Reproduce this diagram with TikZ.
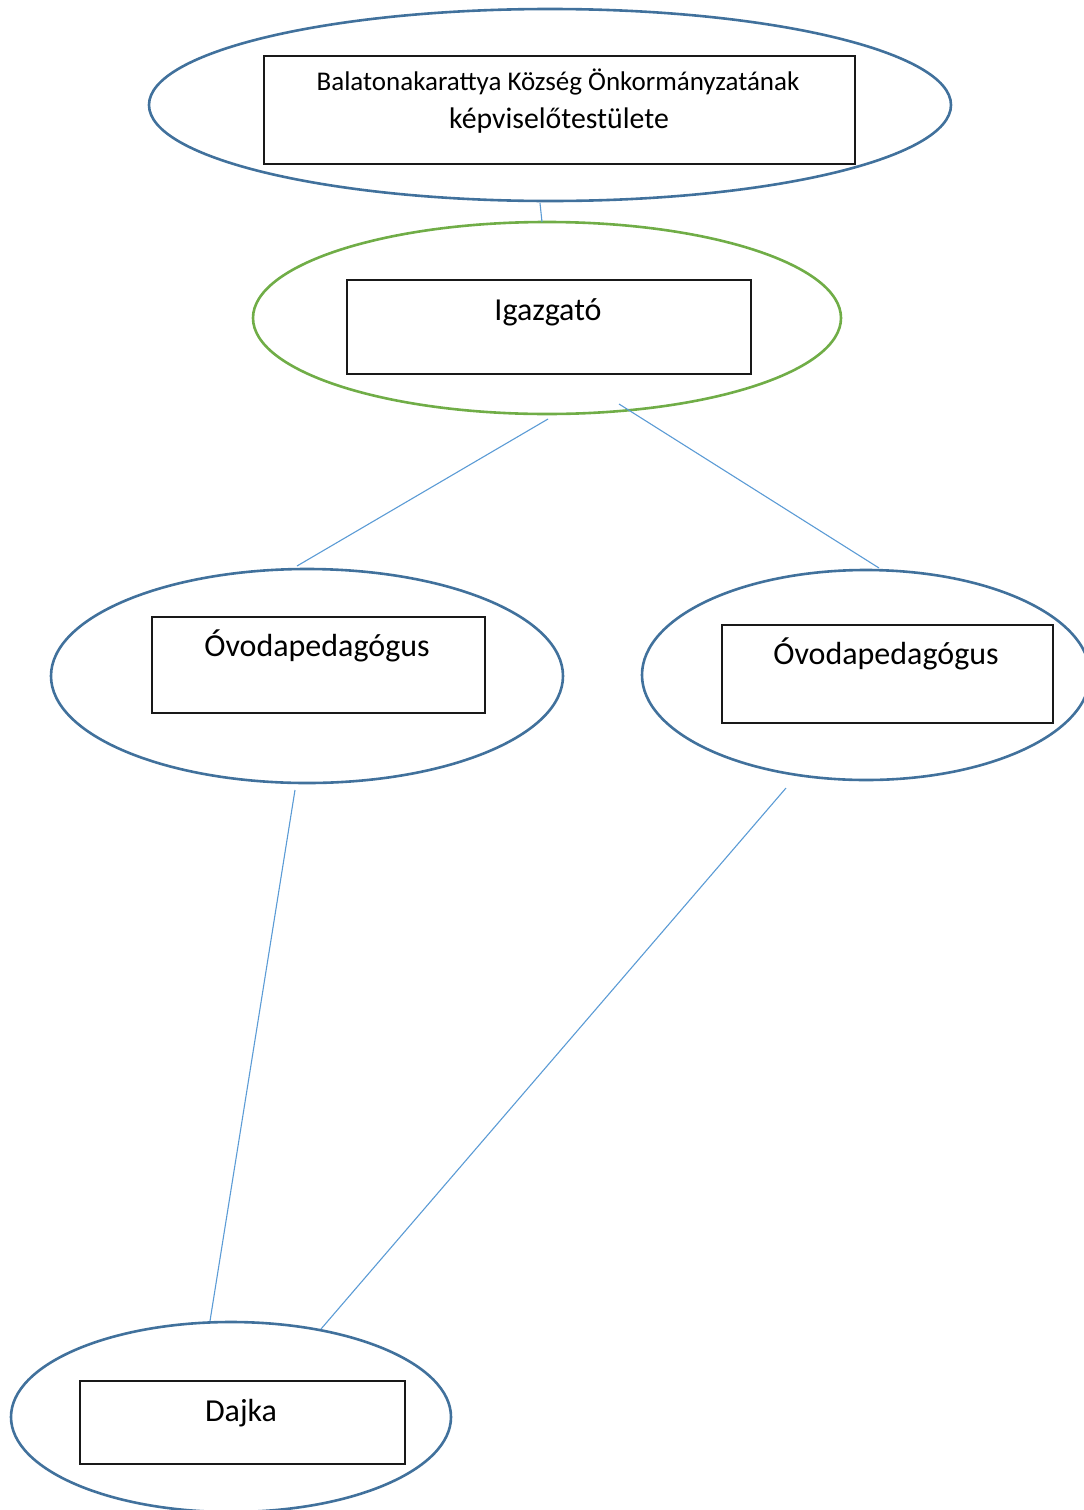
\documentclass[tikz,border=0pt]{standalone}
\usepackage{fontspec}
\setmainfont{Carlito}
\usetikzlibrary{shapes.geometric}
\definecolor{ellblue}{HTML}{41719C}
\definecolor{ellgreen}{HTML}{70AD47}
\definecolor{conblue}{HTML}{5B9BD5}
\tikzset{
  oval/.style={ellipse, draw=ellblue, line width=2.6pt, inner sep=0pt},
  greenoval/.style={oval, draw=ellgreen},
  box/.style={draw=black!90, line width=1.5pt, inner sep=0pt, anchor=north west},
  lbl/.style={inner sep=0pt, anchor=base, font=\fontsize{32}{38}\selectfont},
  con/.style={draw=conblue, line width=1.1pt}
}
\begin{document}
\begin{tikzpicture}[x=1pt,y=-1pt]
\useasboundingbox (0,0) rectangle (1084,1510);
% ellipses
\node[oval, minimum width=802pt, minimum height=192pt] (top) at (550,105) {};
\node[greenoval, minimum width=588pt, minimum height=192pt] (igz) at (547,318) {};
\node[oval, minimum width=512pt, minimum height=214pt] (ovl) at (307,676) {};
\node[oval, minimum width=448pt, minimum height=210pt] (ovr) at (866,675) {};
\node[oval, minimum width=440pt, minimum height=190pt] (daj) at (231,1417) {};
% boxes
\node[box, minimum width=591pt, minimum height=108pt] (topbox) at (263,55) {};
\node[box, minimum width=404pt, minimum height=94pt] (igzbox) at (346,279) {};
\node[box, minimum width=333pt, minimum height=96pt] (ovlbox) at (151,616) {};
\node[box, minimum width=331pt, minimum height=98pt] (ovrbox) at (721,624) {};
\node[box, minimum width=325pt, minimum height=83pt] (dajbox) at (79,1380) {};
% labels
\node[lbl, font=\fontsize{27}{32}\selectfont] (t1) at (558,90) {Balatonakarattya Község Önkormányzatának};
\node[lbl, font=\fontsize{29.8}{35}\selectfont] (t2) at (559,128) {képviselőtestülete};
\node[lbl] (t3) at (548,320) {Igazgató};
\node[lbl] (t4) at (317,656) {Óvodapedagógus};
\node[lbl] (t5) at (886,664) {Óvodapedagógus};
\node[lbl] (t6) at (241,1421) {Dajka};
% connector ends
\coordinate (c1a) at (540,203);
\coordinate (c1b) at (542,222);
\coordinate (c2a) at (548,419);
\coordinate (c2b) at (297,566);
\coordinate (c3a) at (619,404);
\coordinate (c3b) at (879,568);
\coordinate (c4a) at (295,790);
\coordinate (c4b) at (210,1321);
\coordinate (c5a) at (786,788);
\coordinate (c5b) at (321,1329);
\draw[con] (c1a) -- (c1b);
\draw[con] (c2a) -- (c2b);
\draw[con] (c3a) -- (c3b);
\draw[con] (c4a) -- (c4b);
\draw[con] (c5a) -- (c5b);
\end{tikzpicture}
\end{document}
